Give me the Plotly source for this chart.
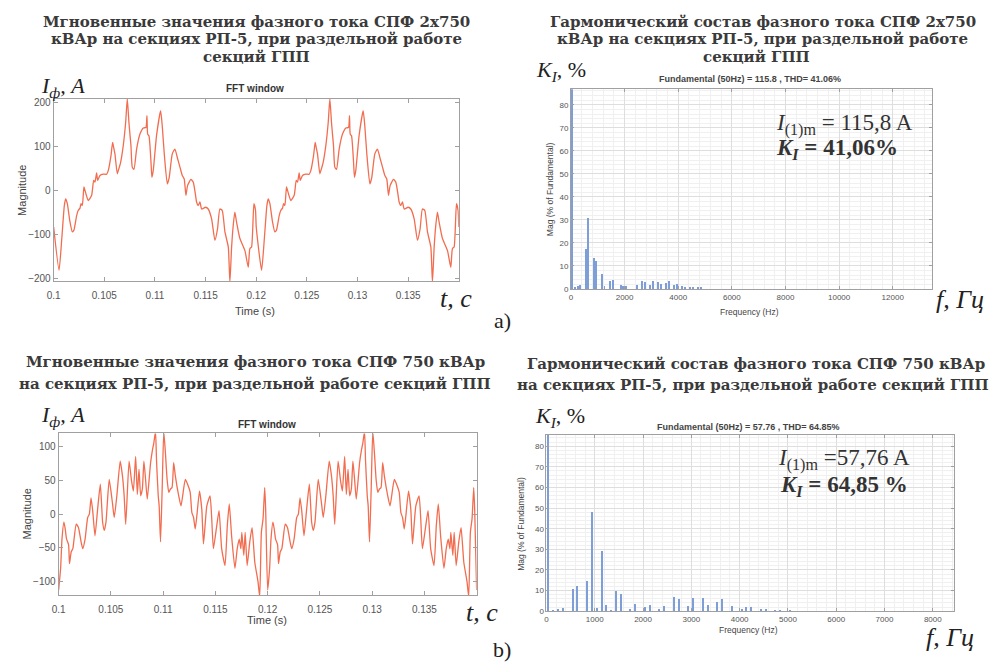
import plotly.graph_objects as go

# ---------------- DATA ----------------
# (a) instantaneous phase current, SPF 2x750 kVAr
t_a = [0.10000, 0.10053, 0.10080, 0.10105, 0.10118, 0.10135, 0.10160, 0.10184, 0.10200, 0.10227,
       0.10243, 0.10260, 0.10270, 0.10283, 0.10299, 0.10319, 0.10342, 0.10375, 0.10395, 0.10408,
       0.10424, 0.10434, 0.10457, 0.10490, 0.10523, 0.10539, 0.10566, 0.10582, 0.10592, 0.10605,
       0.10628, 0.10638, 0.10661, 0.10687, 0.10711, 0.10727, 0.10743, 0.10753, 0.10763, 0.10776,
       0.10793, 0.10819, 0.10852, 0.10885, 0.10911, 0.10921, 0.10928, 0.10941, 0.10961, 0.10970,
       0.10983, 0.11016, 0.11056, 0.11072, 0.11092, 0.11122, 0.11141, 0.11171, 0.11197, 0.11224,
       0.11247, 0.11270, 0.11289, 0.11306, 0.11322, 0.11355, 0.11378, 0.11401, 0.11411, 0.11428,
       0.11444, 0.11461, 0.11500, 0.11526, 0.11559, 0.11592, 0.11618, 0.11641, 0.11664, 0.11691,
       0.11724, 0.11740, 0.11757, 0.11773, 0.11789, 0.11806, 0.11839, 0.11888, 0.11921, 0.11937,
       0.11954, 0.11977, 0.11993,
       0.12000, 0.12053, 0.12080, 0.12105, 0.12118, 0.12135, 0.12160, 0.12184, 0.12200, 0.12227,
       0.12243, 0.12260, 0.12270, 0.12283, 0.12299, 0.12319, 0.12342, 0.12375, 0.12395, 0.12408,
       0.12424, 0.12434, 0.12457, 0.12490, 0.12523, 0.12539, 0.12566, 0.12582, 0.12592, 0.12605,
       0.12628, 0.12638, 0.12661, 0.12687, 0.12711, 0.12727, 0.12743, 0.12753, 0.12763, 0.12776,
       0.12793, 0.12819, 0.12852, 0.12885, 0.12911, 0.12921, 0.12928, 0.12941, 0.12961, 0.12970,
       0.12983, 0.13016, 0.13056, 0.13072, 0.13092, 0.13122, 0.13141, 0.13171, 0.13197, 0.13224,
       0.13247, 0.13270, 0.13289, 0.13306, 0.13322, 0.13355, 0.13378, 0.13401, 0.13411, 0.13428,
       0.13444, 0.13461, 0.13500, 0.13526, 0.13559, 0.13592, 0.13618, 0.13641, 0.13664, 0.13691,
       0.13724, 0.13740, 0.13757, 0.13773, 0.13789, 0.13806, 0.13839, 0.13888, 0.13921, 0.13937,
       0.13954, 0.13977, 0.13993, 0.14000]
i_a = [-83, -181, -110, -35, -19, -30, -70, -94, -90, -57,
       -45, -40, -30, -34, 8, -8, -23, -11, 23, 19,
       40, 23, 34, 37, 37, 45, 79, 109, 98, 83,
       38, 45, 64, 102, 155, 208, 155, 128, 102, 53,
       48, 94, 128, 142, 143, 170, 128, 124, 64, 30,
       45, 125, 181, 147, 83, 15, 30, 83, 94, 72,
       53, 34, 26, -11, 11, 25, 19, -11, -26, -34,
       -26, -42, -38, -42, -64, -113, -87, -42, -45, -94,
       -128, -208, -128, -79, -49, -72, -109, -136, -174, -132,
       -128, -30, -45,
       -83, -181, -110, -35, -19, -30, -70, -94, -90, -57,
       -45, -40, -30, -34, 8, -8, -23, -11, 23, 19,
       40, 23, 34, 37, 37, 45, 79, 109, 98, 83,
       38, 45, 64, 102, 155, 208, 155, 128, 102, 53,
       48, 94, 128, 142, 143, 170, 128, 124, 64, 30,
       45, 125, 181, 147, 83, 15, 30, 83, 94, 72,
       53, 34, 26, -11, 11, 25, 19, -11, -26, -34,
       -26, -42, -38, -42, -64, -113, -87, -42, -45, -94,
       -128, -208, -128, -79, -49, -72, -109, -136, -174, -132,
       -128, -30, -45, -83]

# (b) instantaneous phase current, SPF 750 kVAr
t_b = [0.10000, 0.10019, 0.10032, 0.10051, 0.10063, 0.10076, 0.10095, 0.10104, 0.10120, 0.10136,
       0.10168, 0.10190, 0.10215, 0.10231, 0.10253, 0.10278, 0.10294, 0.10310, 0.10326, 0.10348,
       0.10373, 0.10399, 0.10421, 0.10437, 0.10453, 0.10484, 0.10516, 0.10532, 0.10557, 0.10589,
       0.10611, 0.10627, 0.10642, 0.10674, 0.10696, 0.10715, 0.10737, 0.10753, 0.10769, 0.10785,
       0.10801, 0.10816, 0.10832, 0.10848, 0.10880, 0.10896, 0.10911, 0.10927, 0.10937, 0.10953,
       0.10962, 0.10975, 0.10991, 0.11006, 0.11022, 0.11038, 0.11054, 0.11070, 0.11085, 0.11101,
       0.11117, 0.11149, 0.11171, 0.11212, 0.11234, 0.11259, 0.11275, 0.11291, 0.11307, 0.11323,
       0.11348, 0.11370, 0.11386, 0.11418, 0.11449, 0.11465, 0.11481, 0.11513, 0.11535, 0.11560,
       0.11592, 0.11614, 0.11633, 0.11655, 0.11687, 0.11709, 0.11728, 0.11744, 0.11753, 0.11772,
       0.11785, 0.11804, 0.11829, 0.11851, 0.11877, 0.11908, 0.11924, 0.11940, 0.11956, 0.11972,
       0.11981,
       0.12000, 0.12019, 0.12032, 0.12051, 0.12063, 0.12076, 0.12095, 0.12104, 0.12120, 0.12136,
       0.12168, 0.12190, 0.12215, 0.12231, 0.12253, 0.12278, 0.12294, 0.12310, 0.12326, 0.12348,
       0.12373, 0.12399, 0.12421, 0.12437, 0.12453, 0.12484, 0.12516, 0.12532, 0.12557, 0.12589,
       0.12611, 0.12627, 0.12642, 0.12674, 0.12696, 0.12715, 0.12737, 0.12753, 0.12769, 0.12785,
       0.12801, 0.12816, 0.12832, 0.12848, 0.12880, 0.12896, 0.12911, 0.12927, 0.12937, 0.12953,
       0.12962, 0.12975, 0.12991, 0.13006, 0.13022, 0.13038, 0.13054, 0.13070, 0.13085, 0.13101,
       0.13117, 0.13149, 0.13171, 0.13212, 0.13234, 0.13259, 0.13275, 0.13291, 0.13307, 0.13323,
       0.13348, 0.13370, 0.13386, 0.13418, 0.13449, 0.13465, 0.13481, 0.13513, 0.13535, 0.13560,
       0.13592, 0.13614, 0.13633, 0.13655, 0.13687, 0.13709, 0.13728, 0.13744, 0.13753, 0.13772,
       0.13785, 0.13804, 0.13829, 0.13851, 0.13877, 0.13908, 0.13924, 0.13940, 0.13956, 0.13972,
       0.13981, 0.14000]
i_b = [-112, -80, -37, -12, -22, -37, -45, -73, -56, -51,
       -15, -20, -41, -51, -37, -5, 0, 24, 5, -32,
       7, 44, -12, -24, -12, 51, 15, -5, 27, 78,
       56, 27, -15, 78, 51, 34, 85, 29, 66, 27,
       37, 78, 51, 22, 76, 93, 105, 122, 78, 27,
       12, -41, 39, 122, 90, 51, 32, 37, 39, 76,
       56, 27, 12, 51, 44, 32, 2, -5, -22, -2,
       34, 7, -44, 12, 27, -7, -51, -17, 5, -51,
       -76, -17, 15, -32, -80, -51, -37, -51, -27, -61,
       -27, -76, -41, -20, -71, -100, -122, -27, -7, 39,
       7,
       -112, -80, -37, -12, -22, -37, -45, -73, -56, -51,
       -15, -20, -41, -51, -37, -5, 0, 24, 5, -32,
       7, 44, -12, -24, -12, 51, 15, -5, 27, 78,
       56, 27, -15, 78, 51, 34, 85, 29, 66, 27,
       37, 78, 51, 22, 76, 93, 105, 122, 78, 27,
       12, -41, 39, 122, 90, 51, 32, 37, 39, 76,
       56, 27, 12, 51, 44, 32, 2, -5, -22, -2,
       34, 7, -44, 12, 27, -7, -51, -17, 5, -51,
       -76, -17, 15, -32, -80, -51, -37, -51, -27, -61,
       -27, -76, -41, -20, -71, -100, -122, -27, -7, 39,
       7, -112]

# harmonic spectra (% of fundamental)
f_a = [50, 150, 250, 350, 550, 650, 850, 950, 1150, 1250, 1450, 1550, 1850, 1950, 2050, 2450,
       2650, 2750, 2950, 3050, 3250, 3350, 3550, 3650, 3850, 3950, 4150, 4250, 4450, 4550, 4750, 4850]
k_a = [100, 0.8, 1.0, 1.5, 17, 30.5, 13.5, 12, 6.2, 1.0, 3.5, 3.8, 1.5, 1.3, 1.0, 1.5,
       3.5, 3.0, 1.5, 3.5, 3.0, 2.2, 2.5, 3.2, 1.5, 1.8, 1.0, 0.7, 0.5, 0.4, 0.3, 0.3]
f_b = [50, 150, 250, 350, 550, 650, 850, 950, 1050, 1150, 1250, 1350, 1450, 1550, 1750, 1850,
       2050, 2150, 2350, 2450, 2650, 2750, 2950, 3050, 3250, 3350, 3550, 3650, 3850, 4050, 4150,
       4250, 4450, 4550, 4750, 4850, 5050]
k_b = [100, 0.5, 1.1, 1.5, 10.7, 12, 14.8, 48, 1.5, 29, 3.2, 0.5, 9.6, 8.5, 1.0, 3.5,
       2.0, 2.8, 1.0, 2.5, 6.8, 5.7, 2.7, 6.3, 6.5, 3.0, 4.5, 5.8, 2.5, 1.2, 2.0,
       1.8, 0.8, 0.8, 0.7, 0.7, 0.5]

time_ticks = [0.1, 0.105, 0.11, 0.115, 0.12, 0.125, 0.13, 0.135]
time_ticktext = ["0.1", "0.105", "0.11", "0.115", "0.12", "0.125", "0.13", "0.135"]

# ---------------- FIGURE ----------------
W, H = 990, 667
def px(x): return x / W
def py(y): return 1 - y / H

LINE_C = "#F26D50"
BAR_C = "#7E9ED8"
AX_C = "#a0a0a0"
TICK_FONT = dict(family="Liberation Sans, Arial", size=10, color="#555555")
TICK_FONT_S = dict(family="Liberation Sans, Arial", size=8, color="#555555")

fig = go.Figure()
fig.add_trace(go.Scatter(x=t_a, y=i_a, mode="lines", line=dict(color=LINE_C, width=1.3, shape="spline", smoothing=0.5),
                         xaxis="x", yaxis="y", showlegend=False))
fig.add_trace(go.Bar(x=f_a, y=k_a, width=36, marker=dict(color=BAR_C, line=dict(width=0)),
                     xaxis="x2", yaxis="y2", showlegend=False))
fig.add_trace(go.Scatter(x=t_b, y=i_b, mode="lines", line=dict(color=LINE_C, width=1.3, shape="spline", smoothing=0.5),
                         xaxis="x3", yaxis="y3", showlegend=False))
fig.add_trace(go.Bar(x=f_b, y=k_b, width=22, marker=dict(color=BAR_C, line=dict(width=0)),
                     xaxis="x4", yaxis="y4", showlegend=False))

def time_axis(dom, anchor, **kw):
    d = dict(domain=dom, anchor=anchor, showline=True, linecolor=AX_C, linewidth=1, mirror="ticks",
             ticks="inside", ticklen=4, tickcolor=AX_C, showgrid=False, zeroline=False,
             tickfont=TICK_FONT)
    d.update(kw)
    return d

def spec_axis(dom, anchor, minor_dtick, **kw):
    d = dict(domain=dom, anchor=anchor, showline=True, linecolor=AX_C, linewidth=1, mirror="ticks",
             ticks="inside", ticklen=3, tickcolor=AX_C, showgrid=True, gridcolor="#dedede", gridwidth=1,
             zeroline=False, tickfont=TICK_FONT_S, tickformat="d",
             minor=dict(dtick=minor_dtick, showgrid=True, gridcolor="#f0f0f0", ticks=""))
    d.update(kw)
    return d

fig.update_layout(
    width=W, height=H, margin=dict(l=0, r=0, t=0, b=0),
    paper_bgcolor="white", plot_bgcolor="white", bargap=0,
    xaxis=time_axis([px(47), px(455)], "y", range=[0.1, 0.14], tickvals=time_ticks, ticktext=time_ticktext,
                    ticklabelstandoff=5),
    yaxis=time_axis([py(282), py(98)], "x", range=[-205.5, 207.7], tickvals=[-200, -100, 0, 100, 200]),
    xaxis2=spec_axis([px(568), px(932)], "y2", 400, range=[0, 13480], tickvals=[0, 2000, 4000, 6000, 8000, 10000, 12000]),
    yaxis2=spec_axis([py(290), py(88.3)], "x2", 2, range=[0, 86.7], tickvals=[0, 10, 20, 30, 40, 50, 60, 70, 80]),
    xaxis3=time_axis([px(52), px(473)], "y3", range=[0.1, 0.14], tickvals=time_ticks, ticktext=time_ticktext,
                     ticklabelstandoff=5),
    yaxis3=time_axis([py(599.3), py(436)], "x3", range=[-119.4, 119], tickvals=[-100, -50, 0, 50, 100]),
    xaxis4=spec_axis([px(543.3), px(953.3)], "y4", 200, range=[0, 8430], tickvals=list(range(0, 8001, 1000))),
    yaxis4=spec_axis([py(615.7), py(437.7)], "x4", 2, range=[0, 85.4], tickvals=[0, 10, 20, 30, 40, 50, 60, 70, 80]),
)

ann = []
def A(text, x, y, size, family="Liberation Serif, Times New Roman", color="#333333", angle=0, xanchor="center"):
    ann.append(dict(text=text, x=px(x), y=py(y), xref="paper", yref="paper", showarrow=False,
                    xanchor=xanchor, yanchor="middle", textangle=angle,
                    font=dict(size=size, family=family, color=color)))

SANS = "Liberation Sans, Arial"
TFAM = "DejaVu Serif, Liberation Serif"
TS = 15
TC = "#3a3a3a"
# titles
A("<b>Мгновенные значения фазного тока СПФ 2х750</b>", 251, 20, TS, family=TFAM, color=TC)
A("<b>кВАр на секциях РП-5, при раздельной работе</b>", 251, 37.5, TS, family=TFAM, color=TC)
A("<b>секций ГПП</b>", 251, 55.5, TS, family=TFAM, color=TC)
A("<b>Гармонический состав фазного тока СПФ 2х750</b>", 761, 20, TS, family=TFAM, color=TC)
A("<b>кВАр на секциях РП-5, при раздельной работе</b>", 761, 37.5, TS, family=TFAM, color=TC)
A("<b>секций ГПП</b>", 755, 55.5, TS, family=TFAM, color=TC)
A("<b>Мгновенные значения фазного тока СПФ 750 кВАр</b>", 250, 364, TS, family=TFAM, color=TC)
A("<b>на секциях РП-5, при раздельной работе секций ГПП</b>", 250, 386, TS, family=TFAM, color=TC)
A("<b>Гармонический состав фазного тока СПФ 750 кВАр</b>", 754, 366, TS, family=TFAM, color=TC)
A("<b>на секциях РП-5, при раздельной работе секций ГПП</b>", 751, 387, TS, family=TFAM, color=TC)

# axis quantity labels (italic serif)
A("<i>I</i><sub><i>ф</i></sub><i>, A</i>", 56, 86, 22, color="#222222")
A("<i>K</i><sub><i>I</i></sub>, %", 558, 70, 22, color="#222222")
A("<i>I</i><sub><i>ф</i></sub><i>, A</i>", 56, 418, 22, color="#222222")
A("<i>K</i><sub><i>I</i></sub>, %", 557, 419, 22, color="#222222")
A("<i>t, c</i>", 452, 300, 26, color="#222222")
A("<i>f, Гц</i>", 960, 301, 26, color="#222222")
A("<i>t, c</i>", 478, 617, 26, color="#222222")
A("<i>f, Гц</i>", 950, 642, 26, color="#222222")

# MATLAB-style titles and axis labels
A("<b>FFT window</b>", 250, 87, 10, family=SANS, color="#333333")
A("<b>FFT window</b>", 262, 427, 10, family=SANS, color="#333333")
A("<b>Fundamental (50Hz) = 115.8 , THD= 41.06%</b>", 748, 78, 9, family=SANS, color="#444444")
A("<b>Fundamental (50Hz) = 57.76 , THD= 64.85%</b>", 747, 430, 9, family=SANS, color="#444444")
A("Magnitude", 15, 190, 11, family=SANS, color="#444444", angle=-90)
A("Magnitude", 20, 517, 11, family=SANS, color="#444444", angle=-90)
A("Time (s)", 250, 312, 11, family=SANS, color="#444444")
A("Time (s)", 262, 625, 11, family=SANS, color="#444444")
A("Mag (% of Fundamental)", 547, 189, 8.5, family=SANS, color="#444444", angle=-90)
A("Mag (% of Fundamental)", 518, 527, 8.5, family=SANS, color="#444444", angle=-90)
A("Frequency (Hz)", 748, 313, 8.5, family=SANS, color="#444444")
A("Frequency (Hz)", 747, 635, 8.5, family=SANS, color="#444444")

# in-plot annotations
A("<i>I</i><sub>(1)m</sub> = 115,8 A", 843, 124, 23, color="#333333")
A("<b><i>K</i><sub><i>I</i></sub> = 41,06%</b>", 836, 149, 23, color="#333333")
A("<i>I</i><sub>(1)m</sub> =57,76 A", 843, 462, 23, color="#333333")
A("<b><i>K</i><sub><i>I</i></sub> = 64,85 %</b>", 843, 489, 23, color="#333333")

# panel letters
A("a)", 499, 322, 22, color="#222222")
A("b)", 499, 654, 22, color="#222222")

fig.update_layout(annotations=ann)
fig.write_html("out.html")
